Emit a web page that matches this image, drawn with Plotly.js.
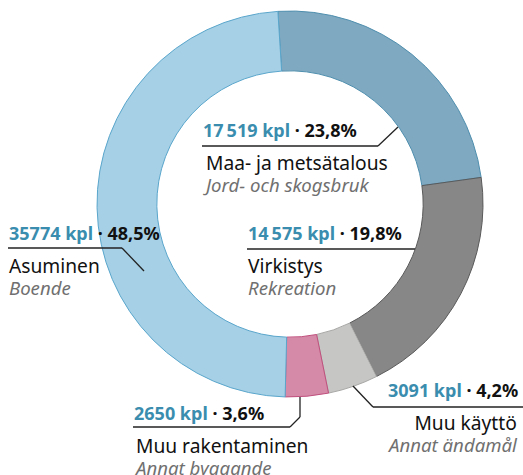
<!DOCTYPE html>
<html><head><meta charset="utf-8">
<script src="https://cdn.plot.ly/plotly-3.0.1.min.js"></script>
<style>html,body{margin:0;padding:0;background:#fff;}#chart{width:523px;height:475px;}</style>
</head><body><div id="chart"></div>
<script>
const labelsFi = ["Maa- ja metsätalous", "Virkistys", "Muu käyttö", "Muu rakentaminen", "Asuminen"];
const labelsSv = ["Jord- och skogsbruk", "Rekreation", "Annat ändamål", "Annat byggande", "Boende"];
const values = [17519, 14575, 3091, 2650, 35774];
const valueText = ["17\u2009519", "14\u2009575", "3091", "2650", "35774"];
const percents = ["23,8%", "19,8%", "4,2%", "3,6%", "48,5%"];
const colors = ["#7fa8c1", "#878787", "#c6c6c4", "#d58aa7", "#a6d0e5"];
const lineColors = ["#4f8fae", "#5a5a5a", "#a8a8a6", "#c0507e", "#5aa6cc"];

const W = 523, H = 475;
const px = x => x / W, py = y => 1 - y / H;
const FONT = "Noto Sans";

// label positions (anchor x, y of first line, alignment)
const pos = [
  {x: 202, y: 130, a: "left"},
  {x: 247, y: 233, a: "left"},
  {x: 519, y: 390, a: "right"},
  {x: 133, y: 413, a: "left"},
  {x: 8,   y: 233, a: "left"}
];

const annotations = [];
labelsFi.forEach((lab, i) => {
  const p = pos[i];
  const common = {xref: "paper", yref: "paper", x: px(p.x), xanchor: p.a, yanchor: "middle", showarrow: false, align: p.a, borderpad: 0};
  annotations.push(Object.assign({}, common, {
    y: py(p.y),
    text: `<b><span style="color:#3a8dae">${valueText[i]} kpl</span> · ${percents[i]}</b>`,
    font: {family: FONT, size: 18, color: "#111"}
  }));
  annotations.push(Object.assign({}, common, {
    y: py(p.y + 43),
    text: `<span style="font-size:19.2px">${lab}</span><br><span style="font-size:18.6px;color:#707070"><i>${labelsSv[i]}</i></span>`,
    font: {family: FONT, size: 17, color: "#111"}
  }));
});

const L = (x0, y0, x1, y1) => ({type: "line", xref: "paper", yref: "paper", x0: px(x0), y0: py(y0), x1: px(x1), y1: py(y1), line: {color: "#222", width: 1.3}});
const shapes = [
  L(202, 146, 378, 146), L(378, 146, 398, 127),
  L(247, 249, 415, 249),
  L(8, 248, 122, 248), L(122, 248, 144, 271),
  L(133, 427, 290, 427), L(290, 427, 300, 417), L(300, 417, 300, 397),
  L(373, 407, 523, 407), L(373, 407, 353, 386)
];

const cx = 290, cy = 204, R = 193;
const trace = {
  type: "pie",
  values: values,
  labels: labelsFi,
  sort: false,
  direction: "clockwise",
  rotation: -3.6,
  hole: 0.69,
  textinfo: "none",
  hoverinfo: "none",
  marker: {colors: colors, line: {color: lineColors, width: 1}},
  domain: {x: [px(cx - R), px(cx + R)], y: [py(cy + R), py(cy - R)]}
};

Plotly.newPlot("chart", [trace], {
  width: W, height: H,
  margin: {l: 0, r: 0, t: 0, b: 0},
  showlegend: false,
  paper_bgcolor: "#fff",
  annotations: annotations,
  shapes: shapes
}, {staticPlot: true});
</script></body></html>
